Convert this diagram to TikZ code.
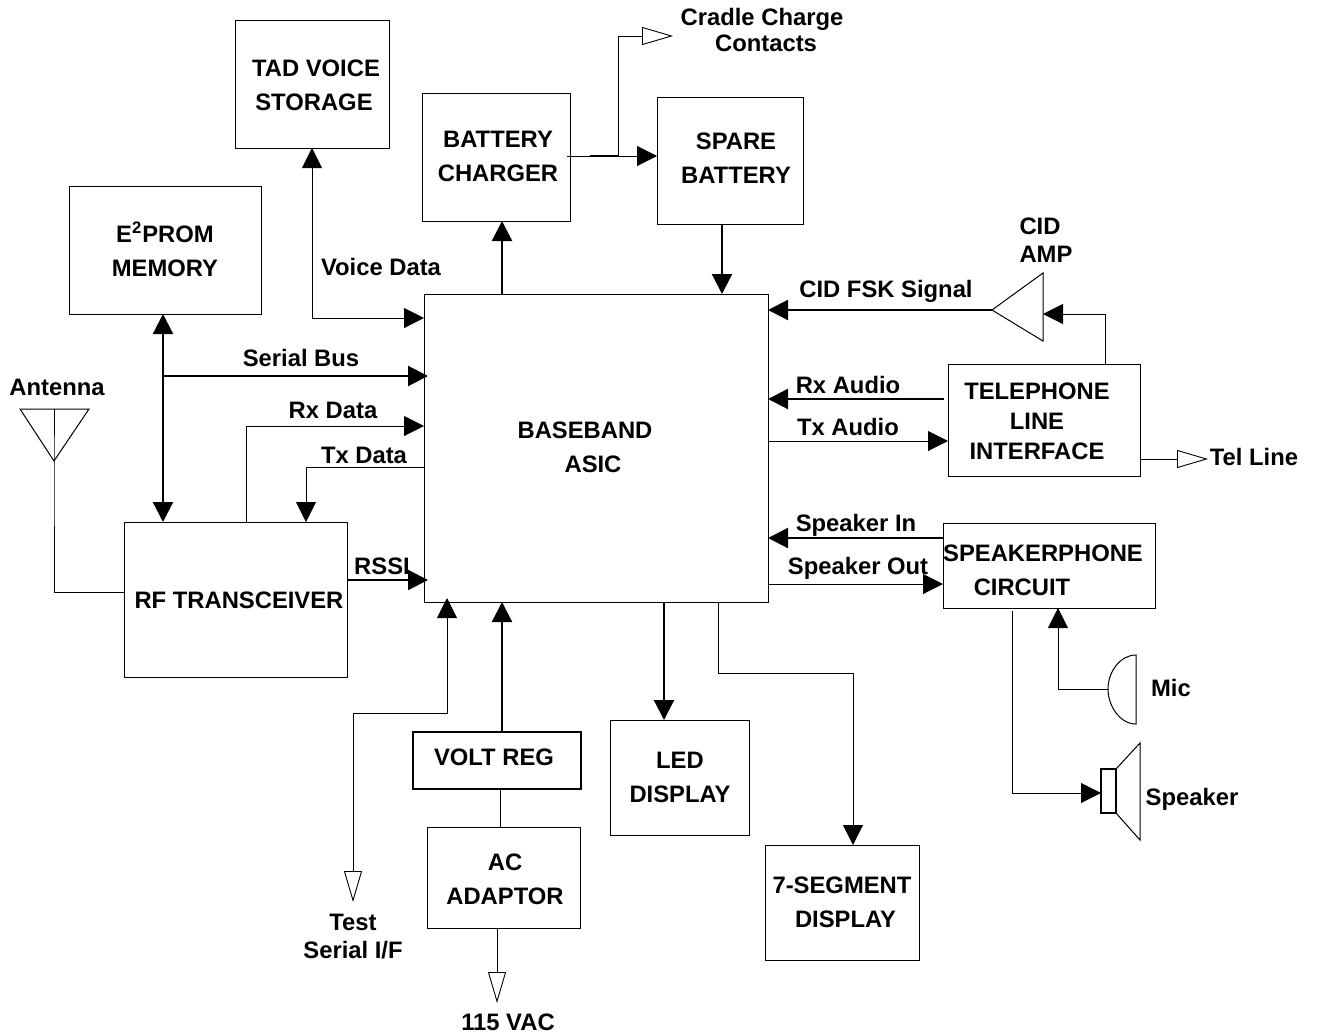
\documentclass[tikz,border=0pt]{standalone}
\usepackage{fontspec}
\setmainfont{Liberation Sans}
\usetikzlibrary{arrows.meta}
\tikzset{
blockbox/.style={draw,rectangle,inner sep=0pt,outer sep=0pt,line width=.45pt},
lbl/.style={font=\bfseries\fontsize{11.9}{17}\selectfont,inner sep=0pt,align=center},
wire/.style={line width=.5pt},
heavy/.style={line width=1.1pt},
tofill/.style={-{Triangle[length=10pt,width=10pt]}},
bothfill/.style={{Triangle[length=10pt,width=10pt]}-{Triangle[length=10pt,width=10pt]}},
toopen/.style={-{Triangle[open,length=15.5pt,width=9pt,fill=white,line width=.45pt]}},
openfill/.style={{Triangle[open,length=15.5pt,width=9pt,fill=white,line width=.45pt]}-{Triangle[length=10pt,width=10pt]}}
}
\begin{document}
\begin{tikzpicture}[x=.5pt,y=-.5pt]
\useasboundingbox(0,0)rectangle(1318,1034);
\node[blockbox,minimum width=77pt,minimum height=64pt](tad)at(312,84){};
\node[blockbox,minimum width=74pt,minimum height=64pt](charger)at(496,157){};
\node[blockbox,minimum width=73pt,minimum height=63.5pt](spare)at(730,160.5){};
\node[blockbox,minimum width=96pt,minimum height=64pt](eeprom)at(165,250){};
\node[blockbox,minimum width=172pt,minimum height=154pt](asic)at(596,448){};
\node[blockbox,minimum width=96pt,minimum height=56pt](tel)at(1044,420){};
\node[blockbox,minimum width=106pt,minimum height=42.5pt](spkr)at(1049,565.5){};
\node[blockbox,minimum width=111.5pt,minimum height=77.5pt](rf)at(235.5,599.5){};
\node[blockbox,line width=1.2pt,minimum width=84pt,minimum height=28.5pt](volt)at(497,760.5){};
\node[blockbox,minimum width=76.5pt,minimum height=50.5pt](ac)at(503.5,877.5){};
\node[blockbox,minimum width=69.5pt,minimum height=57.5pt](led)at(679.5,777.5){};
\node[blockbox,minimum width=77pt,minimum height=57.5pt](seg)at(842,902.5){};

\node[lbl](tadtxt)at(316,85){TAD VOICE\\\hspace*{-2pt}STORAGE};
\node[lbl](chargertxt)at(498,156){BATTERY\\CHARGER};
\node[lbl](sparetxt)at(736,158.5){SPARE\\BATTERY};
\node[lbl](eepromtxt)at(165,249){E\textsuperscript{2}PROM\\MEMORY};
\node[lbl](asictxt)at(585,447){BASEBAND\\\hspace*{8pt}ASIC};
\node[lbl](teltxt)at(1037,421){TELEPHONE\\[-2pt]LINE\\[-2pt]INTERFACE};
\node[lbl](spkrtxt)at(1043,570.5){SPEAKERPHONE\\CIRCUIT\hspace*{21pt}};
\node[lbl](rftxt)at(239,600){RF TRANSCEIVER};
\node[lbl](volttxt)at(494,757){VOLT REG};
\node[lbl](actxt)at(505,879){AC\\ADAPTOR};
\node[lbl](ledtxt)at(680,777){LED\\DISPLAY};
\node[lbl](segtxt)at(843.5,902){\hspace*{-1.5pt}7-SEGMENT\\\hspace*{2pt}DISPLAY};
\node[lbl](cradletxt)at(762,30){Cradle Charge\\[-4pt]\hspace*{4pt}Contacts};
\node[lbl](voicetxt)at(381,267){Voice Data};
\node[lbl](cidamptxt)at(1046,240){\hspace*{-6pt}CID\\[-3pt]AMP};
\node[lbl](fsktxt)at(886,291){CID FSK Signal};
\node[lbl](serialtxt)at(301,358){Serial Bus};
\node[lbl](antennatxt)at(57,387){Antenna};
\node[lbl](rxdatatxt)at(333,410){Rx Data};
\node[lbl](txdatatxt)at(364,455){Tx Data};
\node[lbl](rxaudiotxt)at(848,385){Rx Audio};
\node[lbl](txaudiotxt)at(848,427){Tx Audio};
\node[lbl](teltext)at(1254,457){Tel Line};
\node[lbl](spkintxt)at(856,525){Speaker In};
\node[lbl](spkouttxt)at(858,568){Speaker Out};
\node[lbl](rssitxt)at(382,566){RSSI};
\node[lbl](mictxt)at(1171,688){Mic};
\node[lbl](speakertxt)at(1192,799){Speaker};
\node[lbl](testtxt)at(353,937){Test\\[-3pt]Serial I/F};
\node[lbl](vactxt)at(508,1022){115 VAC};

\coordinate(cradle)at(673,36);\coordinate(telline)at(1208,459);\coordinate(testend)at(353,902);\coordinate(vac)at(497,1003);
\coordinate(antfoot)at(54,461);\coordinate(ampnose)at(992,310);\coordinate(micback)at(1108,689);\coordinate(spkback)at(1101,793);

\draw[wire,tofill](567,156)--(spare.west|-0,156);
\draw[heavy](590,156)--(618,156);
\draw[wire,toopen](618,156)--(618,36)--(cradle);
\draw[heavy,tofill](asic.north-|502,0)--(charger.south-|502,0);
\draw[heavy,tofill](spare.south-|722,0)--(asic.north-|722,0);
\draw[wire,bothfill](tad.south-|312,0)--(312,318)--(asic.west|-0,318);
\draw[heavy,bothfill](eeprom.south-|163,0)--(rf.north-|163,0);
\draw[heavy,tofill](163,376)--(428,376);
\draw[wire,tofill](rf.north-|246,0)--(246,426)--(asic.west|-0,426);
\draw[wire,tofill](asic.west|-0,467)--(306,467)--(rf.north-|306,0);
\draw[heavy,tofill](rf.east|-0,580)--(428,580);
\draw[heavy,tofill](ampnose)--(asic.east|-0,310);
\draw[wire,tofill](tel.north-|1105,0)--(1105,314)--(1043,314);
\draw[heavy,tofill](944,399)--(asic.east|-0,399);
\draw[wire,tofill](asic.east|-0,441)--(tel.west|-0,441);
\draw[wire,toopen](tel.east|-0,459)--(telline);
\draw[heavy,tofill](spkr.west|-0,538)--(asic.east|-0,538);
\draw[wire,tofill](asic.east|-0,584)--(spkr.west|-0,584);
\draw[wire,tofill](micback)--(1058,689)--(spkr.south-|1058,0);
\draw[wire,tofill](1012,611)--(1012,793)--(spkback);
\draw[wire,tofill](asic.south-|718,0)--(718,673)--(853,673)--(seg.north-|853,0);
\draw[heavy,tofill](asic.south-|664,0)--(led.north-|664,0);
\draw[heavy,tofill](volt.north-|502,0)--(asic.south-|502,0);
\draw[wire,openfill](testend)--(353,713)--(447,713)--(447,598);
\draw[wire](volt.south-|500,0)--(ac.north-|500,0);
\draw[wire,toopen](ac.south-|497,0)--(vac);
\draw[wire](54,409)--(antfoot)--(54,592)--(rf.west|-0,592);
\draw[wire](20,409)--(89,409)--(antfoot)--cycle;
\draw[wire,fill=white](1043,273)--(1043,341)--(ampnose)--cycle;
\draw[wire,fill=white](1136,655)..controls(1120,655)and(1108,672)..(micback)..controls(1108,706)and(1120,724)..(1136,724)--cycle;
\draw[wire,fill=white](1116,769)--(1140,743)--(1140,840)--(1116,813)--cycle;
\draw[line width=.8pt,fill=white](1101,769)rectangle(1116,813);
\end{tikzpicture}
\end{document}
